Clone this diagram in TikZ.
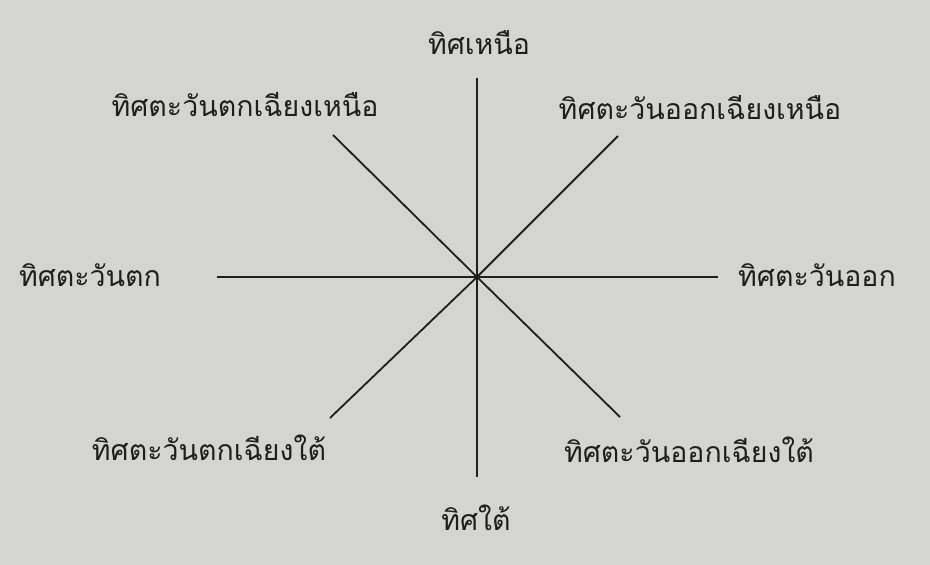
\documentclass[tikz,border=0pt]{standalone}
\usepackage{fontspec}
\newfontfamily\thaifont[Script=Thai]{Loma}
\definecolor{bgc}{RGB}{212,213,208}
\definecolor{ink}{RGB}{30,30,30}
\begin{document}
\begin{tikzpicture}[x=1pt,y=-1pt,
  lbl/.style={font=\thaifont\fontsize{28.5}{34}\selectfont, text=ink, inner sep=0pt},
  ray/.style={draw=ink, line width=1.8pt}]
\fill[bgc] (0,0) rectangle (930,565);
\useasboundingbox (0,0) rectangle (930,565);
\coordinate (O) at (477,277);
\coordinate (eN) at (477,78);
\coordinate (eS) at (477,477);
\coordinate (eW) at (217,277);
\coordinate (eE) at (718,277);
\coordinate (eNE) at (618,136);
\coordinate (eNW) at (333,135);
\coordinate (eSW) at (330,418);
\coordinate (eSE) at (620,417);
\foreach \e in {eN,eS,eW,eE,eNE,eNW,eSW,eSE} \draw[ray] (O) -- (\e);
\node[lbl] (n) at (479,43) {ทิศเหนือ};
\node[lbl] (nw) at (245,105) {ทิศตะวันตกเฉียงเหนือ};
\node[lbl] (ne) at (700,108) {ทิศตะวันออกเฉียงเหนือ};
\node[lbl] (w) at (90,275) {ทิศตะวันตก};
\node[lbl] (e) at (817,275) {ทิศตะวันออก};
\node[lbl] (sw) at (209,448) {ทิศตะวันตกเฉียงใต้};
\node[lbl] (se) at (689,450) {ทิศตะวันออกเฉียงใต้};
\node[lbl] (s) at (476,518) {ทิศใต้};
\end{tikzpicture}
\end{document}
